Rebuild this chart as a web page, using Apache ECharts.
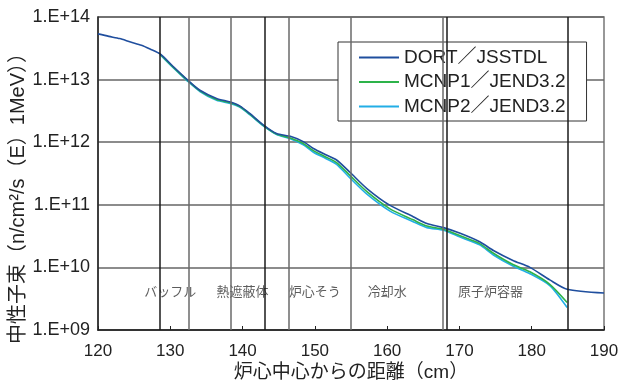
<!DOCTYPE html>
<html>
<head>
<meta charset="utf-8">
<script src="https://cdn.jsdelivr.net/npm/echarts@6/dist/echarts.min.js"></script>
<style>
  html, body { margin: 0; padding: 0; background: #fff; }
  #chart { width: 629px; height: 384px; }
</style>
</head>
<body>
<div id="chart"></div>
<script>
// Neutron flux (E > 1 MeV) vs. distance from core centre
const dortX = [120, 121.5, 123, 124.5, 126, 127.2, 128.6, 130.4, 132.3, 134.1, 136.4, 138.3, 139.6, 141.0, 142.9, 144.7, 146.6, 148.4, 149.8, 151.5, 153.0, 154.85, 157.2, 160.4, 163.6, 165.5, 167.8, 170.1, 172.8, 174.7, 177.4, 179.75, 182.5, 184.9, 190];
const dortY = [5.37e13, 4.90e13, 4.52e13, 3.98e13, 3.55e13, 3.09e13, 2.57e13, 1.62e13, 1.01e13, 6.76e12, 5.01e12, 4.37e12, 3.80e12, 2.88e12, 1.88e12, 1.38e12, 1.24e12, 1.02e12, 7.94e11, 6.31e11, 5.20e11, 3.31e11, 1.82e11, 9.77e10, 6.46e10, 5.01e10, 4.32e10, 3.51e10, 2.57e10, 1.86e10, 1.29e10, 1.00e10, 6.31e9, 4.47e9, 3.89e9];

const mcnpX = [128.6, 130.4, 132.3, 134.1, 136.4, 138.3, 139.6, 141.0, 142.9, 144.7, 146.6, 148.4, 149.8, 151.5, 153.0, 154.85, 157.2, 160.4, 163.6, 165.5, 167.8, 170.1, 172.8, 174.7, 177.4, 179.75, 182.5, 184.9];
const mcnp1Y = [2.54e13, 1.58e13, 9.89e12, 6.61e12, 4.79e12, 4.27e12, 3.72e12, 2.82e12, 1.84e12, 1.35e12, 1.17e12, 9.55e11, 7.33e11, 5.82e11, 4.73e11, 2.95e11, 1.62e11, 8.61e10, 5.75e10, 4.57e10, 4.07e10, 3.20e10, 2.40e10, 1.68e10, 1.11e10, 8.51e9, 5.37e9, 2.75e9];
const mcnp2Y = [2.51e13, 1.55e13, 9.66e12, 6.46e12, 4.68e12, 4.17e12, 3.63e12, 2.75e12, 1.80e12, 1.33e12, 1.14e12, 9.12e11, 6.92e11, 5.50e11, 4.43e11, 2.69e11, 1.48e11, 7.94e10, 5.37e10, 4.32e10, 3.94e10, 3.05e10, 2.29e10, 1.58e10, 1.05e10, 7.94e9, 5.13e9, 2.29e9];

const seriesNames = ['DORT／JSSTDL', 'MCNP1／JEND3.2', 'MCNP2／JEND3.2'];
const seriesColors = ['#1f4e9e', '#2db34a', '#22aee6'];

// Region boundaries (cm) and region names
const boundaryX = [128.6, 132.5, 138.4, 143.1, 146.4, 154.9, 167.7, 168.3, 185.0];
const boundaryDark = [true, false, false, true, false, false, false, true, true];
const regionNames = ['バッフル', '熱遮蔽体', '炉心そう', '冷却水', '原子炉容器'];
const regionLabelX = [130.0, 140.0, 150.0, 160.0, 174.3];
const regionLabelY = 4.05e9;

const yTickLabels = ['1.E+09', '1.E+10', '1.E+11', '1.E+12', '1.E+13', '1.E+14'];

const FONT = "'Liberation Sans', 'Noto Sans CJK JP', sans-serif";

function pairs(xs, ys) { return xs.map((x, i) => [x, ys[i]]); }

const chart = echarts.init(document.getElementById('chart'), null, { renderer: 'canvas' });

chart.setOption({
  animation: false,
  backgroundColor: '#fff',
  textStyle: { fontFamily: FONT },
  grid: {
    left: 98, right: 25, top: 17, bottom: 54,
    outerBoundsMode: 'none', containLabel: false,
    show: true, borderColor: '#777', borderWidth: 1.5, backgroundColor: 'transparent'
  },
  legend: {
    data: seriesNames.map((n, i) => ({ name: n, icon: 'rect', itemStyle: { color: seriesColors[i] } })),
    orient: 'vertical',
    left: 338, top: 42,
    padding: [6, 21, 5, 21],
    itemWidth: 40, itemHeight: 2, itemGap: 5.5,
    backgroundColor: '#fff',
    borderColor: '#333', borderWidth: 1,
    textStyle: { fontFamily: FONT, fontSize: 19, color: '#222' }
  },
  xAxis: {
    type: 'value', min: 120, max: 190, interval: 10,
    name: '炉心中心からの距離（cm）',
    nameLocation: 'middle', nameGap: 33, nameMoveOverlap: false,
    nameTextStyle: { fontFamily: FONT, fontSize: 19, color: '#222' },
    axisLine: { lineStyle: { color: '#222', width: 1.5 } },
    axisTick: { inside: true, length: 4, lineStyle: { color: '#222' } },
    axisLabel: { fontSize: 17, color: '#222', margin: 13, fontFamily: FONT },
    splitLine: { show: false }
  },
  yAxis: {
    type: 'log', logBase: 10, min: 1e9, max: 1e14,
    name: '中性子束（n/cm²/s（E）1MeV））',
    nameLocation: 'middle', nameGap: 70, nameRotate: 90, nameMoveOverlap: false,
    nameTextStyle: { fontFamily: FONT, fontSize: 20, color: '#222', padding: [0, 40, 0, 0] },
    axisLine: { show: true, lineStyle: { color: '#222', width: 1.5 } },
    axisTick: { show: false },
    axisLabel: {
      fontSize: 18, color: '#222', margin: 8, fontFamily: FONT,
      formatter: v => yTickLabels[Math.round(Math.log10(v)) - 9]
    },
    splitLine: { show: true, lineStyle: { color: '#666', width: 1.5 } }
  },
  series: [
    {
      name: 'regions', type: 'scatter', z: 1, silent: true,
      symbolSize: 0,
      data: regionNames.map((n, i) => ({ value: [regionLabelX[i], regionLabelY], name: n })),
      label: { show: true, position: 'inside', formatter: p => p.name, fontSize: 13, color: '#333', fontFamily: FONT },
      markLine: {
        silent: true, symbol: ['none', 'none'], label: { show: false },
        data: boundaryX.map((x, i) => ({ xAxis: x, lineStyle: { color: boundaryDark[i] ? '#1a1a1a' : '#6a6a6a', width: 1.5, type: 'solid' } }))
      }
    },
    {
      name: seriesNames[0], type: 'line', z: 4, symbol: 'none', smooth: 0.25,
      data: pairs(dortX, dortY),
      lineStyle: { color: seriesColors[0], width: 1.6 }, itemStyle: { color: seriesColors[0] }
    },
    {
      name: seriesNames[1], type: 'line', z: 3, symbol: 'none', smooth: 0.25,
      data: pairs(mcnpX, mcnp1Y),
      lineStyle: { color: seriesColors[1], width: 1.6 }, itemStyle: { color: seriesColors[1] }
    },
    {
      name: seriesNames[2], type: 'line', z: 2, symbol: 'none', smooth: 0.25,
      data: pairs(mcnpX, mcnp2Y),
      lineStyle: { color: seriesColors[2], width: 1.6 }, itemStyle: { color: seriesColors[2] }
    }
  ]
});
</script>
</body>
</html>
